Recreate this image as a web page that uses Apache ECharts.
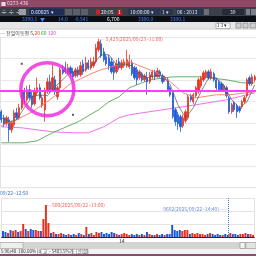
<!DOCTYPE html>
<html><head><meta charset="utf-8">
<script src="https://cdn.jsdelivr.net/npm/echarts@6/dist/echarts.min.js"></script>
<style>html,body{margin:0;padding:0;background:#fff}#c{width:256px;height:256px}</style>
</head><body><div id="c"></div>
<script>
const opens  = [3365,3359,3353,3357,3347,3352,3364,3359,3369,3385,3377,3387,3381,3373,3384,3389,3371,3367,3385,3395,
                3387,3397,3380,3389,3407,3409,3404,3409,3405,3401,3407,3402,3413,3407,3414,3409,3411,3415,3427,3433,
                3425,3420,3419,3415,3411,3405,3415,3409,3411,3411,3410,3414,3409,3407,3399,3403,3397,3399,3395,3400,
                3405,3400,3405,3401,3397,3397,3389,3384,3367,3362,3360,3351,3356,3359,3381,3375,3381,3385,3391,3397,
                3400,3405,3399,3403,3397,3395,3393,3387,3389,3379,3365,3374,3371,3369,3370,3375,3381,3399,3393,3397];
const closes = [3357,3353,3359,3347,3354,3364,3359,3369,3385,3377,3387,3379,3372,3385,3389,3379,3379,3385,3395,3387,
                3399,3385,3389,3407,3404,3405,3409,3403,3400,3407,3402,3411,3405,3414,3409,3415,3415,3429,3435,3421,
                3417,3413,3411,3405,3404,3413,3409,3414,3415,3417,3415,3403,3399,3397,3405,3397,3401,3395,3402,3405,
                3400,3406,3401,3395,3399,3387,3382,3360,3355,3353,3350,3359,3365,3380,3377,3382,3389,3397,3399,3404,
                3405,3399,3405,3397,3389,3387,3387,3391,3381,3365,3372,3367,3365,3366,3375,3379,3397,3393,3400,3400];
const highs  = [3367,3362,3361,3360,3356,3367,3369,3373,3387,3389,3391,3392,3387,3389,3399,3393,3382,3389,3399,3402,
                3412,3401,3391,3409,3412,3415,3413,3411,3409,3409,3410,3415,3417,3420,3417,3419,3420,3433,3438,3437,
                3429,3423,3422,3419,3415,3417,3419,3417,3418,3427,3422,3417,3411,3410,3407,3405,3403,3405,3405,3407,
                3407,3409,3407,3403,3401,3399,3391,3386,3369,3365,3362,3362,3367,3382,3383,3384,3391,3399,3401,3406,
                3407,3407,3408,3405,3399,3397,3395,3393,3391,3381,3374,3376,3373,3371,3377,3381,3399,3401,3403,3402];
const lows   = [3354,3350,3351,3335,3344,3350,3357,3357,3367,3373,3375,3377,3369,3371,3381,3377,3369,3355,3383,3384,
                3385,3382,3377,3387,3402,3403,3402,3400,3397,3399,3400,3400,3402,3405,3407,3407,3409,3413,3425,3419,
                3415,3411,3407,3403,3397,3403,3407,3407,3409,3409,3408,3401,3397,3392,3397,3395,3395,3382,3393,3398,
                3397,3399,3399,3393,3395,3385,3380,3358,3351,3347,3345,3349,3354,3357,3375,3373,3379,3383,3389,3395,
                3398,3397,3397,3395,3387,3385,3385,3385,3379,3363,3363,3365,3359,3364,3368,3373,3379,3391,3391,3395];
const volumes = [92,77,62,108,92,108,77,92,200,123,92,123,108,108,92,92,277,492,215,62,
                 77,46,46,62,46,31,46,31,46,31,62,46,31,154,46,62,31,77,62,77,
                 46,62,46,77,62,46,31,46,62,46,31,46,31,46,31,46,31,77,46,31,
                 31,46,31,46,31,46,46,185,108,92,108,92,108,108,46,62,46,62,46,46,
                 31,46,62,46,31,46,31,31,46,31,62,46,46,31,46,46,62,46,46,31];
const ma5 = [[0,3359],[3,3355],[6,3357],[9,3369],[12,3380],[15,3382],[18,3381],[21,3390],[24,3397],[27,3405],[30,3405],[33,3407],[36,3413],[39,3422],[42,3422],[45,3412],[48,3413],[51,3411],[54,3403],[57,3399],[60,3401],[63,3401],[66,3392],[69,3372],[72,3359],[75,3369],[78,3385],[81,3399],[84,3399],[87,3391],[90,3377],[93,3369],[96,3375],[99,3392]];
const ma20 = [[0,3351],[6,3357],[12,3365],[19,3377],[27,3393],[35,3403],[39,3407],[50,3415],[55,3410],[60,3405],[66,3395],[71,3384],[76,3379],[84,3382],[89,3382],[99,3385]];
const ma60 = [[0,3334],[9,3334],[14,3336],[20,3344],[30,3355],[38,3367],[42,3375],[46,3380],[50,3389],[58,3397],[67,3400],[78,3400],[88,3397],[94,3394],[99,3394]];
const ma120 = [[0,3350],[8,3349],[20,3345],[28,3344],[34,3344],[40,3350],[46,3359],[50,3362],[63,3367],[76,3372],[88,3377],[99,3384]];
const refLine = 3386.5;
const circleMark = [[17.8,3387.5]];
const dotMarks = [[7.8,3413],[27.7,3362]];
const highNote = {index:38, value:3438, text:'\u2500 5,425(2025/09/23~11:00)'};
const volNoteMax = {index:17, value:492, text:'\u2500500(2025/09/22~13:00)'};
const volNoteCur = {index:89, value:431, text:'9602(2025/09/22~14:40)-----'};
const tickLabels = {47:'14'};
const categories = opens.map((_, i) => 'T' + i);

const UP = '#e8321e', DOWN = '#1d5ad6';
const F = '"Noto Sans CJK KR", "Noto Sans", sans-serif';
const chart = echarts.init(document.getElementById('c'), null, {renderer:'canvas'});
function t(x,y,text,fill,size){return {type:'text',x:x,y:y,style:{text:text,fill:fill,font:size+'px '+F}};}
function r(x,y,w,h,fill,stroke){return {type:'rect',shape:{x:x,y:y,width:w,height:h},style:{fill:fill,stroke:stroke||null,lineWidth:stroke?0.6:0}};}
const graphics = [
  r(0,0,256,7,'#8f4a68'), t(1,0.8,'\u25A0 0273-436','#f6d6e4',5),
  r(0,7,256,9,'#3a3f48'), t(1,8.5,'\u00F7 \u00F7 \u00F7','#ffffff',6),
  r(19,9,7,6,'#9aa0a8'), r(29,8.5,35,7,'#1c2d5a'), t(31,9.5,'0.60025  \u25BE','#dfe8ff',5),
  r(65,9,7,6,'#5a606a'), r(73,9,7,6,'#5a606a'), r(81,9,7,6,'#5a606a'),
  r(96,9.5,4,5,'#d02020'), t(101,9.5,'20:05','#e8e8e8',5), r(117,9,5,6,'#b02020'), t(118,9.5,'1','#fff',5),
  r(128,8.5,32,7,'#2a3650'), t(130,9.5,'10:00:00 \u25BE','#e0e0e0',5),
  r(161,9,12,6,'#2a3650'), t(162,9.5,'1 \u25BE','#e0e0e0',5),
  r(176,8.5,27,7,'#2a3650'), t(177,9.5,'06 : 2013','#e0e0e0',5), r(204,9,5,6,'#6a707a'),
  r(222,9,22,6,'#252b38'), t(230,9.5,'39','#e0e0e0',5), r(246,9,4,6,'#7a808a'), r(251,9,5,6,'#7a808a'),
  r(0,16,256,6,'#0c0e16'),
  t(22,16.8,'3390.1','#3d86ff',5), t(40,16.8,'\u25BC','#3d86ff',5), t(58,16.8,'14.0','#3d86ff',5),
  t(74,16.8,'-0.541','#3d86ff',5), t(107,16.8,'6,700','#ffffff',5), t(138,16.8,'3300.0','#3d86ff',5), t(170,16.8,'3300.1','#3d86ff',5),
  r(0,22,256,7,'#e6e6e6'), r(216,23,14,5.5,'#ffffff','#888'), t(217,23.3,'1 3 \u25BE','#222',4.5),
  r(236,23,5,5,'#d0d0d0','#777'), r(243,23,5,5,'#d0d0d0','#777'), r(250,23,6,5,'#d0d0d0','#777'),
  {type:'line',shape:{x1:0,y1:29.2,x2:256,y2:29.2},style:{stroke:'#bbbbbb',lineWidth:0.6}},
  {type:'text',x:0,y:30.2,style:{text:'{a|\u2500 \uC804\uC77C\uC774\uB3D9\uD3C9 5,}{b|20}{c| 60}{d| 120}',font:'5px '+F,
    rich:{a:{fill:'#444',fontSize:5,fontFamily:F},b:{fill:'#e8321e',fontSize:5,fontFamily:F},c:{fill:'#2a9a2a',fontSize:5,fontFamily:F},d:{fill:'#e040e0',fontSize:5,fontFamily:F}}}},
  {type:'line',shape:{x1:0,y1:187.6,x2:256,y2:187.6},style:{stroke:'#c2c2c2',lineWidth:1}},
  t(0,190.6,'09/22~12:50','#3a6fd0',5),
  r(0,242,256,7,'#d4d4d4'), r(0,242.5,23,6,'#eeeeee','#a0a0a0'),
  r(240,242.5,5,6,'#f4f4f4','#888'), r(246,242.5,10,6,'#e4e4e4','#999'),
  r(0,249,256,5,'#f2f2f2'), t(1,249.3,'5 96/40  100.00% |\uB9C8|','#333',4.5),
  r(41,249.2,47,4.8,'#ffffff','#999'), t(43,249.3,'\uAD50 ~ 5403.5%\uAC1C\u00B7|\uC2E0|\uC124|','#333',4.5),
  r(0,254,256,2,'#8f4a68')
];

const option = {
  animation:false,
  backgroundColor:'#ffffff',
  grid:[{left:0,right:0,top:36.8,height:150.5},{left:0,right:0,top:198,height:39}],
  xAxis:[
    {type:'category',data:categories,gridIndex:0,boundaryGap:true,axisLine:{show:false},axisTick:{show:false},axisLabel:{show:false},
     splitLine:{show:true,interval:(i)=>i===47,lineStyle:{color:'#e2e2e2',width:1}}},
    {type:'category',data:categories,gridIndex:1,boundaryGap:true,axisLine:{show:true,lineStyle:{color:'#2a2a3a',width:1}},axisTick:{show:false},
     axisLabel:{show:true,interval:0,formatter:(v,i)=>tickLabels[i]||'',fontSize:5,margin:2,color:'#222',fontFamily:F},
     splitLine:{show:true,interval:(i)=>i===47,lineStyle:{color:'#e2e2e2',width:1}}}
  ],
  yAxis:[
    {type:'value',gridIndex:0,min:3289.5,max:3440,interval:21.5,axisLine:{show:false},axisTick:{show:false},axisLabel:{show:false},
     splitLine:{lineStyle:{color:'#e8e8e8',width:1}}},
    {type:'value',gridIndex:1,min:0,max:600,interval:200,axisLine:{show:false},axisTick:{show:false},axisLabel:{show:false},
     splitLine:{lineStyle:{color:'#e4e4e4',width:1}}}
  ],
  series:[
    {type:'line',data:ma120,xAxisIndex:0,yAxisIndex:0,symbol:'none',lineStyle:{color:'#f070f0',width:1},z:2},
    {type:'line',data:ma60,xAxisIndex:0,yAxisIndex:0,symbol:'none',lineStyle:{color:'#3ca03c',width:0.8},z:2},
    {type:'candlestick',xAxisIndex:0,yAxisIndex:0,barWidth:1.8,
     data:opens.map((o,i)=>[o,closes[i],lows[i],highs[i]]),
     itemStyle:{color:UP,color0:DOWN,borderColor:UP,borderColor0:DOWN,borderWidth:0.8},z:3,
     markLine:{silent:true,symbol:'none',label:{show:false},data:[{yAxis:refLine}],lineStyle:{color:'#ff3cff',width:2,type:'solid'}}},
    {type:'line',data:ma20,xAxisIndex:0,yAxisIndex:0,symbol:'none',lineStyle:{color:'#f27a6a',width:0.9},z:4},
    {type:'line',data:ma5,xAxisIndex:0,yAxisIndex:0,symbol:'none',lineStyle:{color:'#555555',width:0.7},z:4},
    {type:'scatter',data:circleMark,xAxisIndex:0,yAxisIndex:0,symbol:'circle',symbolSize:53,
     itemStyle:{color:'rgba(0,0,0,0)',borderColor:'#ee22dd',borderWidth:3.5},z:6},
    {type:'scatter',data:dotMarks,xAxisIndex:0,yAxisIndex:0,symbol:'rect',symbolSize:2,itemStyle:{color:'#333'},z:6},
    {type:'scatter',data:[[highNote.index,highNote.value]],xAxisIndex:0,yAxisIndex:0,symbolSize:0,z:6,
     label:{show:true,position:'right',distance:1,formatter:highNote.text,fontSize:5,color:'#e04030',fontFamily:F}},
    {type:'bar',xAxisIndex:1,yAxisIndex:1,barWidth:2,
     data:volumes.map((v,i)=>({value:v,itemStyle:{color:closes[i]>=opens[i]?UP:DOWN}})),
     markLine:{silent:true,symbol:'none',label:{show:false},data:[{xAxis:volNoteCur.index}],lineStyle:{color:'#3a78d8',width:1,type:[1,1]}}},
    {type:'scatter',data:[[volNoteMax.index,volNoteMax.value]],xAxisIndex:1,yAxisIndex:1,symbolSize:0,z:6,
     label:{show:true,position:'right',distance:1,formatter:volNoteMax.text,fontSize:5,color:'#e04030',fontFamily:F}},
    {type:'scatter',data:[[volNoteCur.index,volNoteCur.value]],xAxisIndex:1,yAxisIndex:1,symbolSize:0,z:6,
     label:{show:true,position:'left',distance:0,formatter:volNoteCur.text,fontSize:5,color:'#3a6fd0',fontFamily:F}}
  ],
  graphic:graphics
};
chart.setOption(option);
</script></body></html>
